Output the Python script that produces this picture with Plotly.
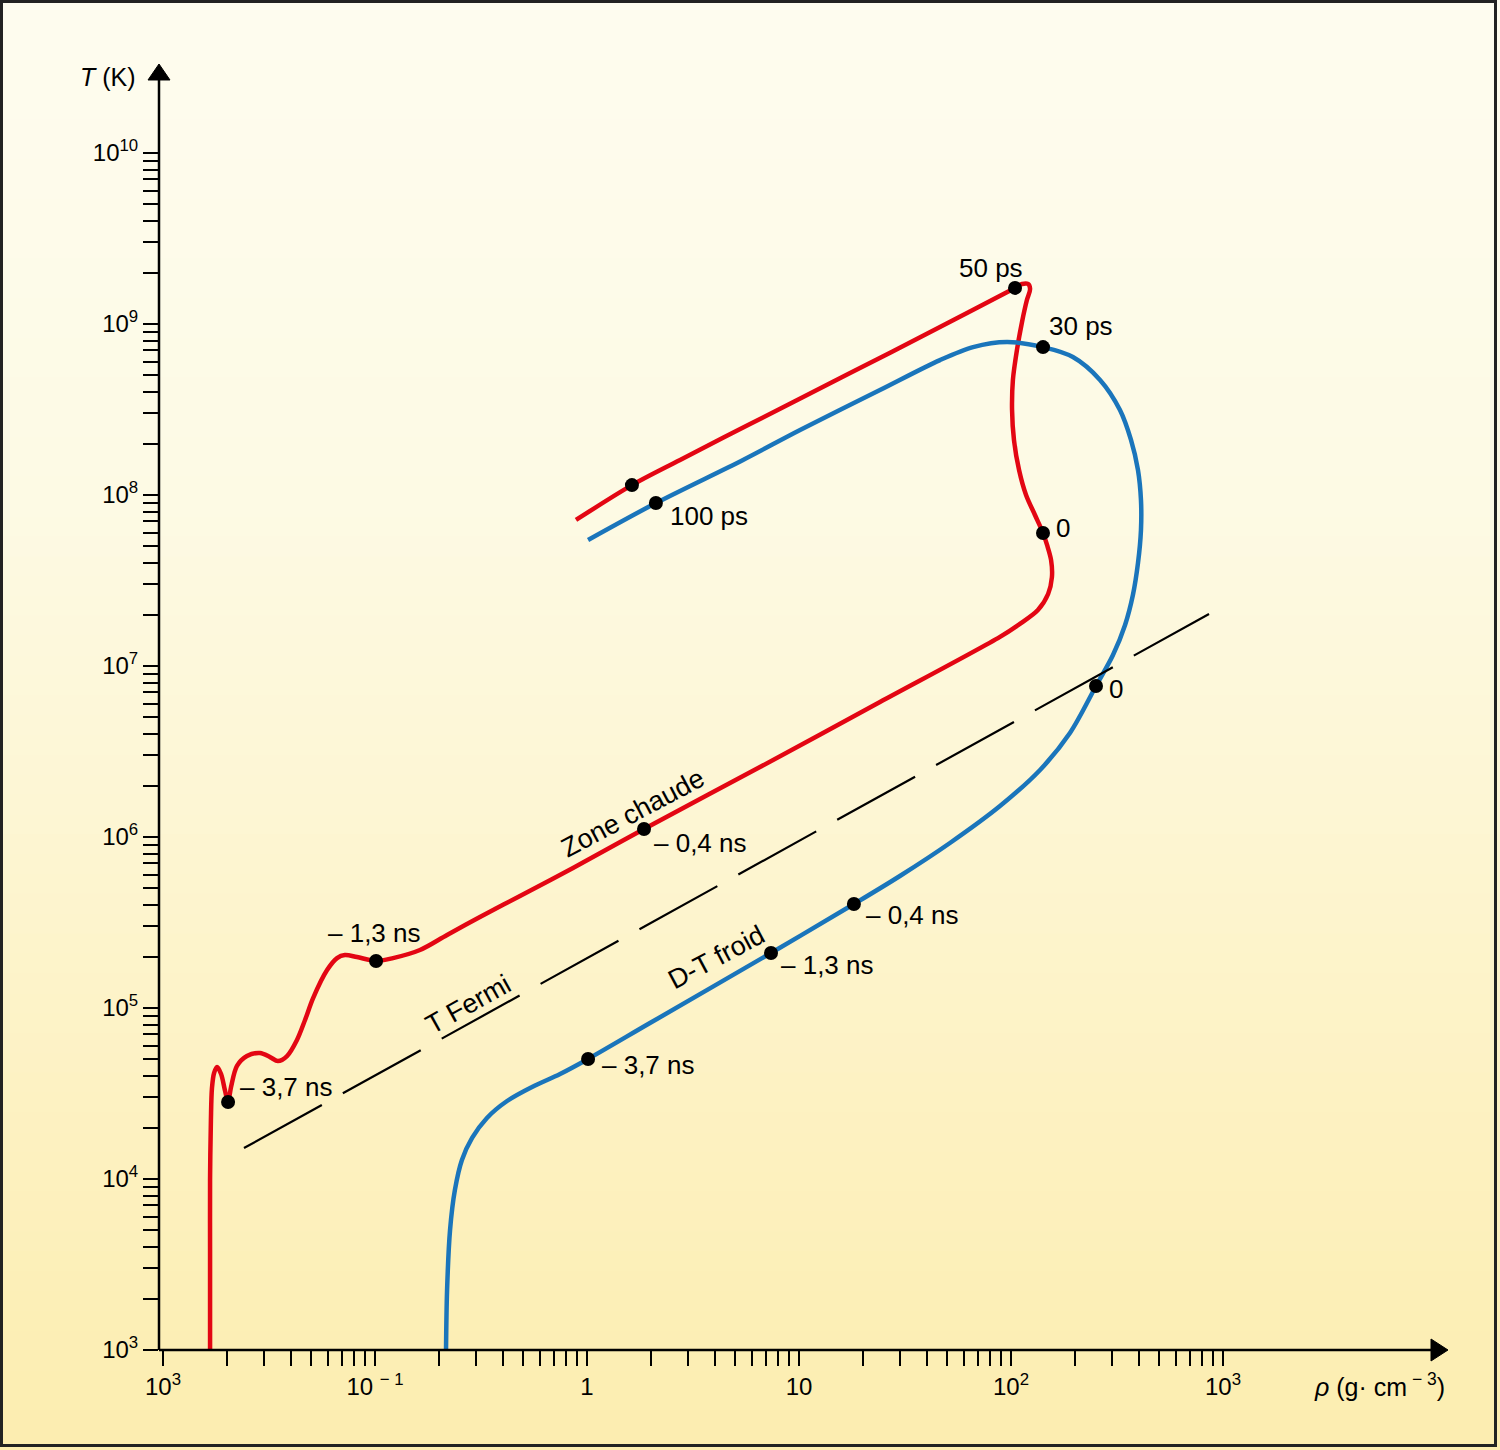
import plotly.graph_objects as go

# ---------------- data (log10 values) ----------------
red_log_rho = [-1.778, -1.778, -1.778, -1.774, -1.769, -1.759, -1.745, -1.726, -1.708, -1.693,
               -1.679, -1.651, -1.604, -1.542, -1.495, -1.458, -1.415, -1.368, -1.330, -1.292,
               -1.226, -1.179, -1.142, -1.085, -0.995, -0.915, -0.788, -0.660, -0.505, -0.316,
               -0.066, 0.269, 0.816, 1.382, 1.948, 2.042, 2.127, 2.175, 2.193, 2.189,
               2.170, 2.151, 2.113, 2.071, 2.038, 2.014, 2.005, 2.009, 2.028, 2.052,
               2.075, 2.090, 2.080, 2.052, 2.019, 1.665, 1.241, 0.769, 0.439, 0.212,
               -0.052]
red_log_T = [3.000, 3.585, 3.994, 4.345, 4.532, 4.620, 4.655, 4.614, 4.520, 4.450,
             4.538, 4.661, 4.719, 4.737, 4.713, 4.690, 4.719, 4.813, 4.930, 5.058,
             5.222, 5.292, 5.310, 5.298, 5.275, 5.292, 5.339, 5.427, 5.532, 5.655,
             5.819, 6.047, 6.409, 6.789, 7.170, 7.246, 7.327, 7.421, 7.520, 7.620,
             7.708, 7.778, 7.883, 8.000, 8.146, 8.322, 8.497, 8.673, 8.848, 9.012,
             9.140, 9.205, 9.234, 9.234, 9.211, 8.982, 8.713, 8.415, 8.205, 8.058,
             7.854]

blue_log_rho = [-0.665, -0.660, -0.646, -0.623, -0.590, -0.542, -0.472, -0.377, -0.259, -0.127,
                0.005, 0.297, 0.868, 1.259, 1.476, 1.712, 1.948, 2.137, 2.278, 2.401,
                2.481, 2.538, 2.575, 2.599, 2.613, 2.613, 2.599, 2.566, 2.514, 2.420,
                2.292, 2.151, 1.981, 1.821, 1.665, 1.382, 1.005, 0.736, 0.325, 0.005]
blue_log_T = [3.000, 3.351, 3.702, 3.936, 4.111, 4.240, 4.357, 4.456, 4.538, 4.614,
              4.702, 4.912, 5.322, 5.608, 5.772, 5.965, 6.181, 6.392, 6.608, 6.883,
              7.064, 7.240, 7.415, 7.602, 7.795, 7.971, 8.146, 8.322, 8.497, 8.673,
              8.807, 8.865, 8.895, 8.865, 8.789, 8.614, 8.380, 8.205, 7.953, 7.737]

fermi_log_rho = [-1.618, 2.934]
fermi_log_T = [4.181, 7.304]

red_event_log_rho = [-1.693, -0.995, 0.269, 2.151, 2.019, 0.212]
red_event_log_T = [4.450, 5.275, 6.047, 7.778, 9.211, 8.058]
red_event_labels = ["– 3,7 ns", "– 1,3 ns", "– 0,4 ns", "0", "50 ps", ""]

blue_event_log_rho = [0.005, 0.868, 1.259, 2.401, 2.151, 0.325]
blue_event_log_T = [4.702, 5.322, 5.608, 6.883, 8.865, 7.953]
blue_event_labels = ["– 3,7 ns", "– 1,3 ns", "– 0,4 ns", "0", "30 ps", "100 ps"]

x_major_exps = [-2, -1, 0, 1, 2, 3]
x_major_labels = ["10<sup>3</sup>", "10 <sup>− 1</sup>", "1", "10", "10<sup>2</sup>", "10<sup>3</sup>"]
y_major_exps = [3, 4, 5, 6, 7, 8, 9, 10]
y_major_labels = ["10<sup>%d</sup>" % e for e in y_major_exps]

curve_names = ["Zone chaude", "D-T froid", "T Fermi"]

# ---------------- styling / geometry ----------------
W, H = 1500, 1450
ML, MR, MT, MB = 159, 53, 65, 100
PW = W - ML - MR
PH = H - MT - MB
FONT = "Liberation Sans, Arial, sans-serif"
RED = "#E30613"
BLUE = "#1A75BB"


def pxx(px):
    return (px - ML) / PW


def pxy(py):
    return (H - MB - py) / PH


X_RANGE = [(ML - 587) / 212, (W - MR - 587) / 212]
Y_RANGE = [3, 3 + PH / 171]

# tick values (data space)
x_tickvals = [10.0 ** e for e in x_major_exps]
x_minorvals = [m * 10.0 ** e for e in x_major_exps[:-1] for m in range(2, 10)]
y_tickvals = [10.0 ** e for e in y_major_exps]
y_minorvals = [m * 10.0 ** e for e in y_major_exps[:-1] for m in range(2, 10)]

fig = go.Figure()

fig.add_trace(go.Scatter(x=[10 ** v for v in red_log_rho], y=[10 ** v for v in red_log_T],
                         mode="lines", name=curve_names[0],
                         line=dict(color=RED, width=4.5, shape="spline", smoothing=0.9)))
fig.add_trace(go.Scatter(x=[10 ** v for v in blue_log_rho], y=[10 ** v for v in blue_log_T],
                         mode="lines", name=curve_names[1],
                         line=dict(color=BLUE, width=4.5, shape="spline", smoothing=0.9)))
fig.add_trace(go.Scatter(x=[10 ** v for v in fermi_log_rho], y=[10 ** v for v in fermi_log_T],
                         mode="lines", name=curve_names[2],
                         line=dict(color="black", width=2.2, dash="89px,24px")))
fig.add_trace(go.Scatter(x=[10 ** v for v in red_event_log_rho + blue_event_log_rho],
                         y=[10 ** v for v in red_event_log_T + blue_event_log_T],
                         mode="markers", marker=dict(color="black", size=14)))

annotations = []
red_offsets = [("left", 10, 15), ("center", -2, 28), ("left", 8, -14), ("left", 11, 5), ("center", -24, 20), ("left", 0, 0)]
blue_offsets = [("left", 12, -6), ("left", 8, -12), ("left", 10, -11), ("left", 11, -3), ("left", 4, 21), ("left", 12, -13)]
for lr, lt, lab, off in zip(red_event_log_rho + blue_event_log_rho,
                            red_event_log_T + blue_event_log_T,
                            red_event_labels + blue_event_labels,
                            red_offsets + blue_offsets):
    if not lab:
        continue
    annotations.append(dict(x=lr, y=lt, xref="x", yref="y", text=lab, showarrow=False,
                            xanchor=off[0], yanchor="middle", xshift=off[1], yshift=off[2],
                            font=dict(family=FONT, size=26, color="black")))

# rotated curve names
for name, lr, lt, ang in zip(curve_names, [0.217, 0.613, -0.557], [6.140, 5.298, 5.023], [-28, -28, -29]):
    annotations.append(dict(x=lr, y=lt, xref="x", yref="y", text=name, showarrow=False,
                            xanchor="center", yanchor="middle",
                            textangle=ang, font=dict(family=FONT, size=27, color="black")))

# axis titles
annotations.append(dict(x=pxx(108), y=pxy(77), xref="paper", yref="paper", text="<i>T</i> (K)",
                        xanchor="center", yanchor="middle",
                        showarrow=False, font=dict(family=FONT, size=25, color="black")))
annotations.append(dict(x=pxx(1379), y=pxy(1385), xref="paper", yref="paper",
                        text="<i>ρ</i> (g· cm<sup> − 3</sup>)", xanchor="center", yanchor="middle",
                        showarrow=False, font=dict(family=FONT, size=25, color="black")))

# ---------------- background gradient bands ----------------
stops = [(0, (254, 252, 239)), (500, (253, 250, 228)), (800, (253, 246, 212)),
         (1000, (253, 243, 200)), (1450, (252, 237, 175))]


def grad(py):
    for (y0, c0), (y1, c1) in zip(stops[:-1], stops[1:]):
        if y0 <= py <= y1:
            t = (py - y0) / (y1 - y0)
            return "rgb(%d,%d,%d)" % tuple(round(a + (b - a) * t) for a, b in zip(c0, c1))
    return "rgb(%d,%d,%d)" % stops[-1][1]


shapes = []
NB = 73
bh = H / NB
for i in range(NB):
    y0 = i * bh
    y1 = (i + 1) * bh + 1
    shapes.append(dict(type="rect", xref="paper", yref="paper", layer="below",
                       x0=pxx(-5), x1=pxx(W + 5), y0=pxy(y0), y1=pxy(y1),
                       line=dict(width=0), fillcolor=grad(y0 + bh / 2)))

# axis lines and arrowheads
shapes.append(dict(type="line", xref="paper", yref="paper", x0=pxx(ML), x1=pxx(1434),
                   y0=pxy(1350), y1=pxy(1350), line=dict(color="black", width=2.5)))
shapes.append(dict(type="line", xref="paper", yref="paper", x0=pxx(ML), x1=pxx(ML),
                   y0=pxy(1350), y1=pxy(78), line=dict(color="black", width=2.5)))
shapes.append(dict(type="path", xref="paper", yref="paper",
                   path="M %f %f L %f %f L %f %f Z" % (pxx(1448), pxy(1350), pxx(1431), pxy(1339),
                                                       pxx(1431), pxy(1361)),
                   fillcolor="black", line=dict(color="black", width=1)))
shapes.append(dict(type="path", xref="paper", yref="paper",
                   path="M %f %f L %f %f L %f %f Z" % (pxx(ML), pxy(64), pxx(ML - 11), pxy(80),
                                                       pxx(ML + 11), pxy(80)),
                   fillcolor="black", line=dict(color="black", width=1)))
# outer frame
shapes.append(dict(type="rect", xref="paper", yref="paper", x0=pxx(1.5), x1=pxx(W - 4.5),
                   y0=pxy(1.5), y1=pxy(H - 4.5), line=dict(color="#222222", width=3)))

tick_style = dict(ticks="outside", ticklen=15, tickwidth=2, tickcolor="black")

fig.update_layout(
    width=W, height=H, autosize=False,
    margin=dict(l=ML, r=MR, t=MT, b=MB, pad=0),
    paper_bgcolor="rgb(253,248,220)", plot_bgcolor="rgba(0,0,0,0)",
    showlegend=False,
    shapes=shapes, annotations=annotations,
    font=dict(family=FONT, size=24, color="black"),
    xaxis=dict(type="log", range=X_RANGE, showgrid=False, zeroline=False, showline=False,
               tickmode="array", tickvals=x_tickvals, ticktext=x_major_labels,
               minor=dict(tickmode="array", tickvals=x_minorvals, showgrid=False, **tick_style),
               tickfont=dict(family=FONT, size=24, color="black"), **tick_style),
    yaxis=dict(type="log", range=Y_RANGE, showgrid=False, zeroline=False, showline=False,
               tickmode="array", tickvals=y_tickvals, ticktext=y_major_labels,
               minor=dict(tickmode="array", tickvals=y_minorvals, showgrid=False, **tick_style),
               tickfont=dict(family=FONT, size=24, color="black"), **tick_style),
)

fig.write_html("out.html", config={"displayModeBar": False},
               post_script="document.body.style.margin='0px';")
